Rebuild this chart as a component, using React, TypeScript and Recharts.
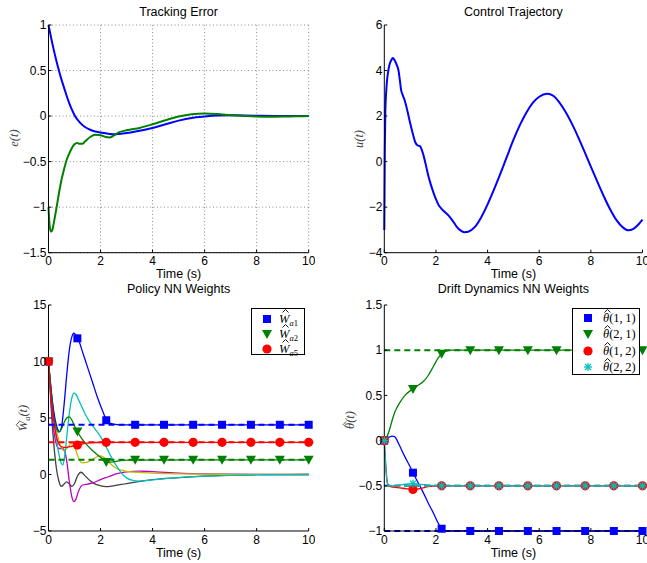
import React from "react";
import { ComposedChart, Line, XAxis, YAxis, CartesianGrid } from "recharts";

const SANS = '"Liberation Sans", Arial, sans-serif';
const SERIF = '"Liberation Serif", "DejaVu Serif", serif';

const X_TICKS = [0, 2, 4, 6, 8, 10];
const MARK_T = [0, 1.11, 2.22, 3.33, 4.44, 5.56, 6.67, 7.78, 8.89, 10];

// tracking error
const e1 = [[0, 1], [0.1, 0.86], [0.2, 0.73], [0.3, 0.61], [0.4, 0.5], [0.5, 0.4], [0.6, 0.31], [0.7, 0.22], [0.8, 0.14], [0.9, 0.07], [1.0, 0.01], [1.2, -0.07], [1.4, -0.12], [1.6, -0.15], [1.8, -0.17], [2.0, -0.18], [2.5, -0.2], [3.0, -0.185], [3.5, -0.16], [4.0, -0.13], [4.5, -0.09], [5.0, -0.05], [5.5, -0.02], [6.0, -0.005], [6.5, 0.005], [7, 0.008], [7.5, 0.007], [8, 0.004], [9, 0], [10, 0]];
const e2 = [[0, -1.0], [0.05, -1.22], [0.1, -1.27], [0.15, -1.25], [0.2, -1.18], [0.3, -1.02], [0.4, -0.85], [0.5, -0.7], [0.6, -0.58], [0.7, -0.48], [0.8, -0.41], [0.9, -0.35], [1.0, -0.31], [1.1, -0.295], [1.2, -0.305], [1.3, -0.305], [1.4, -0.28], [1.6, -0.23], [1.8, -0.205], [2.0, -0.21], [2.2, -0.23], [2.35, -0.235], [2.5, -0.215], [2.7, -0.18], [3.0, -0.155], [3.5, -0.13], [4.0, -0.09], [4.5, -0.045], [5.0, -0.005], [5.5, 0.02], [6.0, 0.028], [6.5, 0.022], [7.0, 0.01], [7.5, 0.002], [8, -0.005], [8.5, -0.008], [9, -0.006], [9.5, -0.002], [10, 0]];

// control
const u = [[0, -3], [0.02, 0.5], [0.04, 2.2], [0.07, 3.0], [0.1, 3.5], [0.15, 3.95], [0.2, 4.25], [0.27, 4.45], [0.33, 4.55], [0.4, 4.45], [0.48, 4.25], [0.55, 4.0], [0.6, 3.6], [0.65, 3.15], [0.72, 2.9], [0.8, 2.65], [0.9, 2.2], [1.0, 1.7], [1.1, 1.25], [1.2, 0.85], [1.28, 0.72], [1.38, 0.68], [1.5, 0.35], [1.6, -0.1], [1.7, -0.6], [1.8, -1.0], [1.9, -1.35], [2.0, -1.65], [2.1, -1.9], [2.2, -2.05], [2.35, -2.22], [2.5, -2.38], [2.65, -2.6], [2.8, -2.85], [2.95, -3.02], [3.1, -3.1], [3.25, -3.08], [3.5, -2.88], [3.75, -2.45], [4.0, -1.88], [4.25, -1.22], [4.5, -0.52], [4.75, 0.22], [5.0, 0.95], [5.25, 1.6], [5.5, 2.15], [5.75, 2.58], [6.0, 2.85], [6.3, 2.98], [6.5, 2.92], [6.75, 2.65], [7.0, 2.22], [7.25, 1.7], [7.5, 1.1], [7.75, 0.45], [8.0, -0.22], [8.25, -0.88], [8.5, -1.52], [8.75, -2.1], [9.0, -2.58], [9.25, -2.9], [9.45, -3.02], [9.65, -2.95], [9.85, -2.75], [10, -2.55]];

// policy NN weights
const wa1 = [[0, 10], [0.1, 7.5], [0.2, 5.6], [0.3, 4.4], [0.42, 3.8], [0.5, 4.2], [0.6, 6.2], [0.7, 8.8], [0.8, 11.0], [0.9, 12.2], [0.97, 12.5], [1.05, 12.35], [1.15, 11.95], [1.3, 10.9], [1.5, 9.5], [1.7, 8.1], [1.9, 6.7], [2.1, 5.5], [2.22, 4.85], [2.35, 4.55], [2.5, 4.45], [2.8, 4.4], [10, 4.4]];
const wa2 = [[0, 10], [0.1, 7.2], [0.2, 5.2], [0.3, 4.1], [0.4, 3.75], [0.5, 4.05], [0.6, 4.6], [0.7, 5.0], [0.8, 5.1], [0.9, 4.8], [1.0, 4.3], [1.11, 3.8], [1.3, 3.1], [1.5, 2.55], [1.7, 2.1], [1.9, 1.7], [2.1, 1.35], [2.22, 1.15], [2.4, 1.1], [2.7, 1.2], [3.0, 1.27], [10, 1.3]];
const wa5 = [[0, 10], [0.1, 7], [0.2, 4.8], [0.3, 3.4], [0.4, 2.7], [0.5, 2.45], [0.7, 2.4], [0.9, 2.5], [1.11, 2.6], [1.4, 2.75], [1.8, 2.83], [2.2, 2.85], [10, 2.85]];
const waC = [[0, 10], [0.1, 7.6], [0.2, 5.3], [0.3, 3.3], [0.4, 1.8], [0.5, 0.95], [0.55, 0.85], [0.62, 1.6], [0.7, 3.3], [0.8, 5.4], [0.9, 6.8], [0.97, 7.2], [1.05, 7.1], [1.2, 6.4], [1.4, 5.4], [1.6, 4.6], [1.8, 4.0], [2.0, 3.35], [2.2, 2.5], [2.4, 1.6], [2.6, 0.8], [2.8, 0.15], [3.0, -0.3], [3.2, -0.5], [3.5, -0.58], [4.0, -0.48], [4.5, -0.37], [5, -0.28], [6, -0.15], [7, -0.07], [8, -0.03], [9, -0.01], [10, 0]];
const waY = [[0, 10], [0.1, 7.4], [0.2, 5.4], [0.3, 4.0], [0.4, 3.0], [0.5, 2.35], [0.6, 2.1], [0.7, 2.3], [0.8, 2.6], [0.9, 2.75], [1.0, 2.5], [1.1, 1.8], [1.2, 1.25], [1.3, 1.03], [1.5, 1.1], [1.7, 1.35], [1.9, 1.6], [2.0, 1.65], [2.2, 1.4], [2.4, 0.9], [2.6, 0.55], [2.8, 0.38], [3.0, 0.28], [3.5, 0.18], [4, 0.12], [5, 0.06], [6, 0.03], [7, 0.01], [10, 0]];
const waM = [[0, 10], [0.1, 6.5], [0.2, 4.0], [0.3, 2.7], [0.4, 2.3], [0.5, 2.3], [0.6, 2.2], [0.7, 1.2], [0.8, -0.6], [0.9, -2.0], [0.97, -2.4], [1.05, -2.2], [1.15, -1.5], [1.3, -0.95], [1.5, -0.85], [1.7, -0.75], [2.0, -0.45], [2.3, -0.2], [2.6, 0.05], [3.0, 0.24], [3.5, 0.3], [4.0, 0.25], [4.5, 0.18], [5, 0.12], [6, 0.05], [7, 0.02], [10, 0]];
const waK = [[0, 10], [0.1, 6], [0.2, 2.8], [0.3, 0.6], [0.4, -0.6], [0.5, -1.05], [0.6, -0.85], [0.7, -0.65], [0.8, -0.85], [0.9, -1.05], [1.0, -0.8], [1.1, -0.2], [1.25, 0.2], [1.4, -0.1], [1.6, -0.55], [1.8, -0.85], [2.0, -1.0], [2.2, -1.08], [2.5, -1.0], [3.0, -0.8], [3.5, -0.62], [4.0, -0.45], [5, -0.28], [6, -0.15], [7, -0.06], [8, -0.02], [10, 0]];
const waIdeal = [4.4, 1.3, 2.85];
const wa1Marks = [10, 12.05, 4.8, 4.4, 4.4, 4.4, 4.4, 4.4, 4.4, 4.4];
const wa2Marks = [10, 3.8, 1.1, 1.3, 1.3, 1.3, 1.3, 1.3, 1.3, 1.3];
const wa5Marks = [10, 2.6, 2.85, 2.85, 2.85, 2.85, 2.85, 2.85, 2.85, 2.85];

// drift dynamics NN weights
const th11 = [[0, 0], [0.1, 0.02], [0.2, 0.04], [0.3, 0.05], [0.4, 0.045], [0.5, 0.0], [0.6, -0.06], [0.8, -0.18], [1.0, -0.29], [1.11, -0.355], [1.3, -0.46], [1.5, -0.57], [1.7, -0.69], [1.9, -0.8], [2.1, -0.92], [2.22, -0.975], [2.35, -0.995], [2.5, -1], [10, -1]];
const th21 = [[0, 0], [0.1, 0.04], [0.2, 0.12], [0.3, 0.22], [0.4, 0.31], [0.5, 0.37], [0.6, 0.42], [0.8, 0.5], [1.0, 0.55], [1.11, 0.57], [1.3, 0.61], [1.5, 0.65], [1.7, 0.72], [1.9, 0.82], [2.1, 0.92], [2.22, 0.96], [2.4, 0.99], [2.6, 1.0], [10, 1]];
const th12 = [[0, 0], [0.05, -0.25], [0.1, -0.43], [0.15, -0.49], [0.25, -0.51], [0.5, -0.52], [0.8, -0.53], [1.11, -0.54], [1.4, -0.53], [1.7, -0.51], [2.0, -0.5], [10, -0.5]];
const th22 = [[0, 0], [0.05, -0.25], [0.1, -0.44], [0.15, -0.49], [0.3, -0.5], [0.6, -0.49], [0.9, -0.48], [1.11, -0.476], [1.4, -0.485], [1.8, -0.495], [2.2, -0.5], [10, -0.5]];
const thIdeal = [-1, 1, -0.5, -0.5];
const th11Marks = [0, -0.355, -0.975, -1, -1, -1, -1, -1, -1, -1];
const th21Marks = [0, 0.57, 0.96, 1, 1, 1, 1, 1, 1, 1];
const th12Marks = [0, -0.54, -0.5, -0.5, -0.5, -0.5, -0.5, -0.5, -0.5, -0.5];
const th22Marks = [0, -0.476, -0.5, -0.5, -0.5, -0.5, -0.5, -0.5, -0.5, -0.5];

const BLUE = "#0000ff", GREEN = "#008000", RED = "#ff0000", CYAN = "#00bfbf";
const MAG = "#bf00bf", YEL = "#bfbf00", DARK = "#404040";

const pts = (a: number[][]) => a.map(([t, v]) => ({ t, v }));
const marks = (vals: number[]) => vals.map((v, i) => ({ t: MARK_T[i], v }));
const flat = (v: number) => [{ t: 0, v }, { t: 10, v }];

function Marker({ kind, cx, cy, color }: any) {
  if (cx == null || cy == null) return null;
  if (kind === "square") return <rect x={cx - 4} y={cy - 4} width={8} height={8} fill={color} />;
  if (kind === "tri") return <polygon points={`${cx - 5},${cy - 4} ${cx + 5},${cy - 4} ${cx},${cy + 5}`} fill={color} />;
  if (kind === "circle") return <circle cx={cx} cy={cy} r={4.6} fill={color} />;
  return (
    <g stroke={color} strokeWidth={1.3}>
      <line x1={cx - 4} y1={cy} x2={cx + 4} y2={cy} />
      <line x1={cx} y1={cy - 4} x2={cx} y2={cy + 4} />
      <line x1={cx - 3} y1={cy - 3} x2={cx + 3} y2={cy + 3} />
      <line x1={cx - 3} y1={cy + 3} x2={cx + 3} y2={cy - 3} />
    </g>
  );
}

const fmt = (v: number) => String(v).replace("-", "\u2212");

type S = { data: any[]; color: string; w?: number; dash?: string; mark?: string };

function Panel({ cLeft, cTop, box, yDomain, yTicks, grid, series }: any) {
  const [x0, y0, x1, y1] = box;
  const width = x1 - cLeft + 6;
  const height = y1 - cTop + 28;
  const tick = { fontSize: 12, fill: "#000", fontFamily: SANS };
  return (
    <div style={{ position: "absolute", left: cLeft, top: cTop }}>
      <ComposedChart width={width} height={height} margin={{ top: y0 - cTop, right: 6, bottom: 3, left: 0 }}>
        {grid && <CartesianGrid stroke="#8c8c8c" strokeDasharray="1 2.5" strokeWidth={1} />}
        <XAxis dataKey="t" type="number" domain={[0, 10]} ticks={X_TICKS} interval={0} height={25}
          tickSize={-3} tickMargin={7} tick={tick} stroke="#000" tickFormatter={fmt} />
        <XAxis xAxisId="top" orientation="top" dataKey="t" type="number" domain={[0, 10]} ticks={X_TICKS}
          interval={0} height={0} tickSize={-3} tickFormatter={() => ""} stroke="#000" />
        <YAxis type="number" domain={yDomain} ticks={yTicks} interval={0} width={x0 - cLeft}
          tickSize={-3} tickMargin={5} tick={tick} stroke="#000" tickFormatter={fmt} />
        <YAxis yAxisId="r" orientation="right" type="number" domain={yDomain} ticks={yTicks} interval={0}
          width={0} tickSize={-3} tickFormatter={() => ""} stroke="#000" />
        {series.map((s: S, i: number) =>
          s.mark ? (
            <Line key={i} data={s.data} dataKey="v" stroke="none" isAnimationActive={false} activeDot={false}
              dot={(p: any) => <Marker key={`${i}-${p.index}`} kind={s.mark} cx={p.cx} cy={p.cy} color={s.color} />} />
          ) : (
            <Line key={i} data={s.data} dataKey="v" type="monotone" stroke={s.color} strokeWidth={s.w ?? 1.3}
              strokeDasharray={s.dash} dot={false} activeDot={false} isAnimationActive={false} />
          )
        )}
      </ComposedChart>
    </div>
  );
}

function Txt({ x, y, children, size = 12.5, rot = false, style }: any) {
  return (
    <div style={{
      position: "absolute", left: x, top: y, fontFamily: SANS, fontSize: size, lineHeight: 1,
      whiteSpace: "nowrap", transform: `translate(-50%,-50%)${rot ? " rotate(-90deg)" : ""}`, ...style,
    }}>{children}</div>
  );
}

// italic glyph with a small caret drawn above it (svg, not text)
function Hat({ ch }: { ch: string }) {
  return (
    <span style={{ position: "relative", display: "inline-block", fontStyle: "italic" }}>
      {ch}
      <svg width={7} height={4} style={{ position: "absolute", left: "50%", top: "-0.12em", marginLeft: -2.5, overflow: "visible" }}>
        <polyline points="0.5,3.5 3.5,0.5 6.5,3.5" fill="none" stroke="currentColor" strokeWidth={0.9} />
      </svg>
    </span>
  );
}

const Sub = ({ children }: any) => (
  <span style={{ fontSize: 8.5, position: "relative", top: 3 }}>{children}</span>
);

function LegendBox({ left, top, w, h, rows }: any) {
  return (
    <div style={{ position: "absolute", left, top, width: w, height: h, border: "1px solid #000", background: "#fff", boxSizing: "border-box" }}>
      {rows.map((r: any, i: number) => (
        <div key={i} style={{ position: "absolute", left: 0, top: r.y - 8, height: 16, width: w, display: "flex", alignItems: "center", lineHeight: "16px" }}>
          <svg width={r.tx} height={16} style={{ flex: "none" }}>
            <Marker kind={r.mark} cx={15} cy={8} color={r.color} />
          </svg>
          <span style={{ fontFamily: SERIF, fontSize: 12.5, whiteSpace: "nowrap" }}>{r.label}</span>
        </div>
      ))}
    </div>
  );
}

const wLab = (n: string) => (<><Hat ch="W" /><Sub><i>a</i>{n}</Sub></>);
const thLab = (a: string) => (<><Hat ch="θ" />({a})</>);

export default function App() {
  const P1 = [48.5, 25, 308.7, 252.7];
  const P2 = [384.3, 25, 642.5, 252.7];
  const P3 = [48.5, 305, 308.7, 531];
  const P4 = [384.3, 305, 642.5, 531];
  const ylab = { fontFamily: SERIF, fontStyle: "italic", color: "#444", fontSize: 12.5 };
  return (
    <div style={{ position: "fixed", left: 0, top: 0, width: 647, height: 563, background: "#fff", overflow: "hidden" }}>
      <Panel cLeft={0} cTop={0} box={P1} yDomain={[-1.5, 1]} yTicks={[-1.5, -1, -0.5, 0, 0.5, 1]} grid
        series={[{ data: pts(e1), color: BLUE, w: 2 }, { data: pts(e2), color: GREEN, w: 2 }]} />
      <Panel cLeft={320} cTop={0} box={P2} yDomain={[-4, 6]} yTicks={[-4, -2, 0, 2, 4, 6]}
        series={[{ data: pts(u), color: BLUE, w: 2 }]} />
      <Panel cLeft={0} cTop={280} box={P3} yDomain={[-5, 15]} yTicks={[-5, 0, 5, 10, 15]}
        series={[
          { data: pts(waK), color: DARK }, { data: pts(waM), color: MAG }, { data: pts(waY), color: YEL },
          { data: pts(waC), color: CYAN },
          { data: pts(wa1), color: BLUE }, { data: pts(wa2), color: GREEN }, { data: pts(wa5), color: RED },
          { data: flat(waIdeal[0]), color: BLUE, w: 2, dash: "6 4" },
          { data: flat(waIdeal[1]), color: GREEN, w: 2, dash: "6 4" },
          { data: flat(waIdeal[2]), color: RED, w: 2, dash: "6 4" },
          { data: marks(wa1Marks), color: BLUE, mark: "square" },
          { data: marks(wa2Marks), color: GREEN, mark: "tri" },
          { data: marks(wa5Marks), color: RED, mark: "circle" },
        ]} />
      <Panel cLeft={320} cTop={280} box={P4} yDomain={[-1, 1.5]} yTicks={[-1, -0.5, 0, 0.5, 1, 1.5]}
        series={[
          { data: pts(th11), color: BLUE }, { data: pts(th21), color: GREEN },
          { data: pts(th12), color: RED }, { data: pts(th22), color: CYAN },
          { data: flat(thIdeal[0]), color: BLUE, w: 2, dash: "6 4" },
          { data: flat(thIdeal[1]), color: GREEN, w: 2, dash: "6 4" },
          { data: flat(thIdeal[2]), color: RED, w: 2, dash: "6 4" },
          { data: flat(thIdeal[3]), color: CYAN, w: 2, dash: "6 4" },
          { data: marks(th11Marks), color: BLUE, mark: "square" },
          { data: marks(th21Marks), color: GREEN, mark: "tri" },
          { data: marks(th12Marks), color: RED, mark: "circle" },
          { data: marks(th22Marks), color: CYAN, mark: "star" },
        ]} />

      <Txt x={178.6} y={12}>Tracking Error</Txt>
      <Txt x={513.4} y={12}>Control Trajectory</Txt>
      <Txt x={178.6} y={289}>Policy NN Weights</Txt>
      <Txt x={513.4} y={289}>Drift Dynamics NN Weights</Txt>
      <Txt x={178.6} y={274} size={12.5}>Time (s)</Txt>
      <Txt x={513.4} y={274} size={12.5}>Time (s)</Txt>
      <Txt x={178.6} y={553} size={12.5}>Time (s)</Txt>
      <Txt x={513.4} y={553} size={12.5}>Time (s)</Txt>

      <Txt x={14} y={138} rot style={ylab}>e(t)</Txt>
      <Txt x={359} y={139} rot style={ylab}>u(t)</Txt>
      <Txt x={23} y={418} rot style={ylab}><><Hat ch="W" /><Sub>a</Sub>(t)</></Txt>
      <Txt x={350} y={420} rot style={ylab}><><Hat ch="θ" />(t)</></Txt>

      <LegendBox left={251} top={308} w={54} h={47} rows={[
        { y: 10, tx: 27, mark: "square", color: BLUE, label: wLab("1") },
        { y: 25, tx: 27, mark: "tri", color: GREEN, label: wLab("2") },
        { y: 40, tx: 27, mark: "circle", color: RED, label: wLab("5") },
      ]} />
      <LegendBox left={572} top={308} w={68} h={67} rows={[
        { y: 9, tx: 30, mark: "square", color: BLUE, label: thLab("1,\u20091") },
        { y: 25, tx: 30, mark: "tri", color: GREEN, label: thLab("2,\u20091") },
        { y: 42, tx: 30, mark: "circle", color: RED, label: thLab("1,\u20092") },
        { y: 58, tx: 30, mark: "star", color: CYAN, label: thLab("2,\u20092") },
      ]} />
    </div>
  );
}
